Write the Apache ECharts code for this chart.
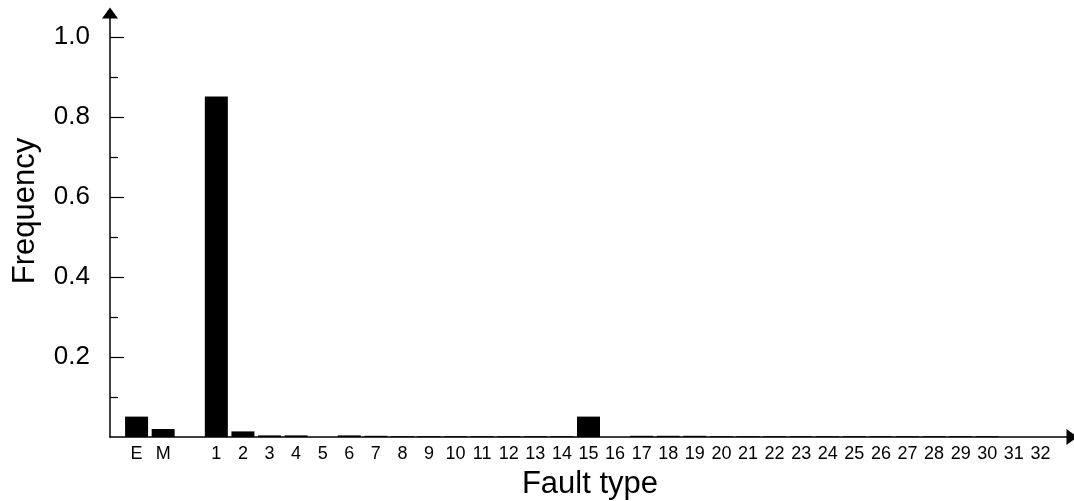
<!DOCTYPE html>
<html>
<head>
<meta charset="utf-8">
<script src="https://cdn.jsdelivr.net/npm/echarts@6/dist/echarts.min.js"></script>
<style>
  html, body { margin: 0; padding: 0; background: #fff; }
  #chart { width: 1074px; height: 501px; }
</style>
</head>
<body>
<div id="chart"></div>
<script>
const faultTypes = ['E', 'M', '', '1', '2', '3', '4', '5', '6', '7', '8', '9', '10', '11', '12', '13', '14', '15', '16',
  '17', '18', '19', '20', '21', '22', '23', '24', '25', '26', '27', '28', '29', '30', '31', '32'];
const frequency = [0.051, 0.020, null, 0.851, 0.014, 0.004, 0.004, 0, 0.004, 0.003, 0.002, 0.002, 0.002, 0.002, 0.002, 0.002, 0.002,
  0.051, 0, 0.003, 0.003, 0.003, 0.002, 0.002, 0.002, 0.002, 0.002, 0.002, 0.002, 0.002, 0.002, 0.002, 0.002, 0, 0];
const yMajorTicks = [0.2, 0.4, 0.6, 0.8, 1.0];
const yMinorTicks = [0.1, 0.3, 0.5, 0.7, 0.9];
const xTitle = 'Fault type';
const yTitle = 'Frequency';

const FONT = "'Liberation Sans', Arial, sans-serif";
const axisCats = [''].concat(faultTypes).concat(['']);
const axisVals = [null].concat(frequency).concat([null]);

const chart = echarts.init(document.getElementById('chart'), null, { renderer: 'canvas' });
chart.setOption({
  animation: false,
  backgroundColor: '#fff',
  grid: { left: 110, right: 7, top: 13, bottom: 64, containLabel: false, outerBoundsMode: 'none' },
  xAxis: {
    type: 'category',
    data: axisCats,
    boundaryGap: false,
    axisLine: { lineStyle: { color: '#000', width: 1.5 }, symbol: ['none', 'triangle'], symbolSize: [16, 11], symbolOffset: [0, 5] },
    axisTick: { show: false },
    splitLine: { show: false },
    axisLabel: { interval: 0, color: '#000', fontSize: 18, fontFamily: FONT, margin: 8 }
  },
  yAxis: [{
    type: 'value',
    min: 0,
    max: 1.06,
    axisLine: { show: true, lineStyle: { color: '#000', width: 1.5 }, symbol: ['none', 'triangle'], symbolSize: [16, 11] },
    axisTick: { show: true, inside: true, length: 14, customValues: yMajorTicks, lineStyle: { color: '#000', width: 1.2 } },
    axisLabel: { customValues: yMajorTicks, formatter: v => v.toFixed(1), color: '#000', fontSize: 26, fontFamily: FONT, margin: 20 },
    splitLine: { show: false }
  }, {
    type: 'value',
    min: 0,
    max: 1.06,
    position: 'left',
    axisLine: { show: false },
    axisTick: { show: true, inside: true, length: 8, customValues: yMinorTicks, lineStyle: { color: '#000', width: 1.2 } },
    axisLabel: { show: false },
    splitLine: { show: false }
  }],
  graphic: [{
    type: 'text',
    x: 25, y: 211,
    rotation: Math.PI / 2,
    style: { text: yTitle, font: '31px ' + FONT, fill: '#000', align: 'center', verticalAlign: 'middle' }
  }, {
    type: 'text',
    x: 590, y: 484,
    style: { text: xTitle, font: '31px ' + FONT, fill: '#000', align: 'center', verticalAlign: 'middle' }
  }],
  series: [{
    type: 'bar',
    data: axisVals,
    barWidth: 23,
    itemStyle: { color: '#000' },
    z: 3
  }]
});
</script>
</body>
</html>
